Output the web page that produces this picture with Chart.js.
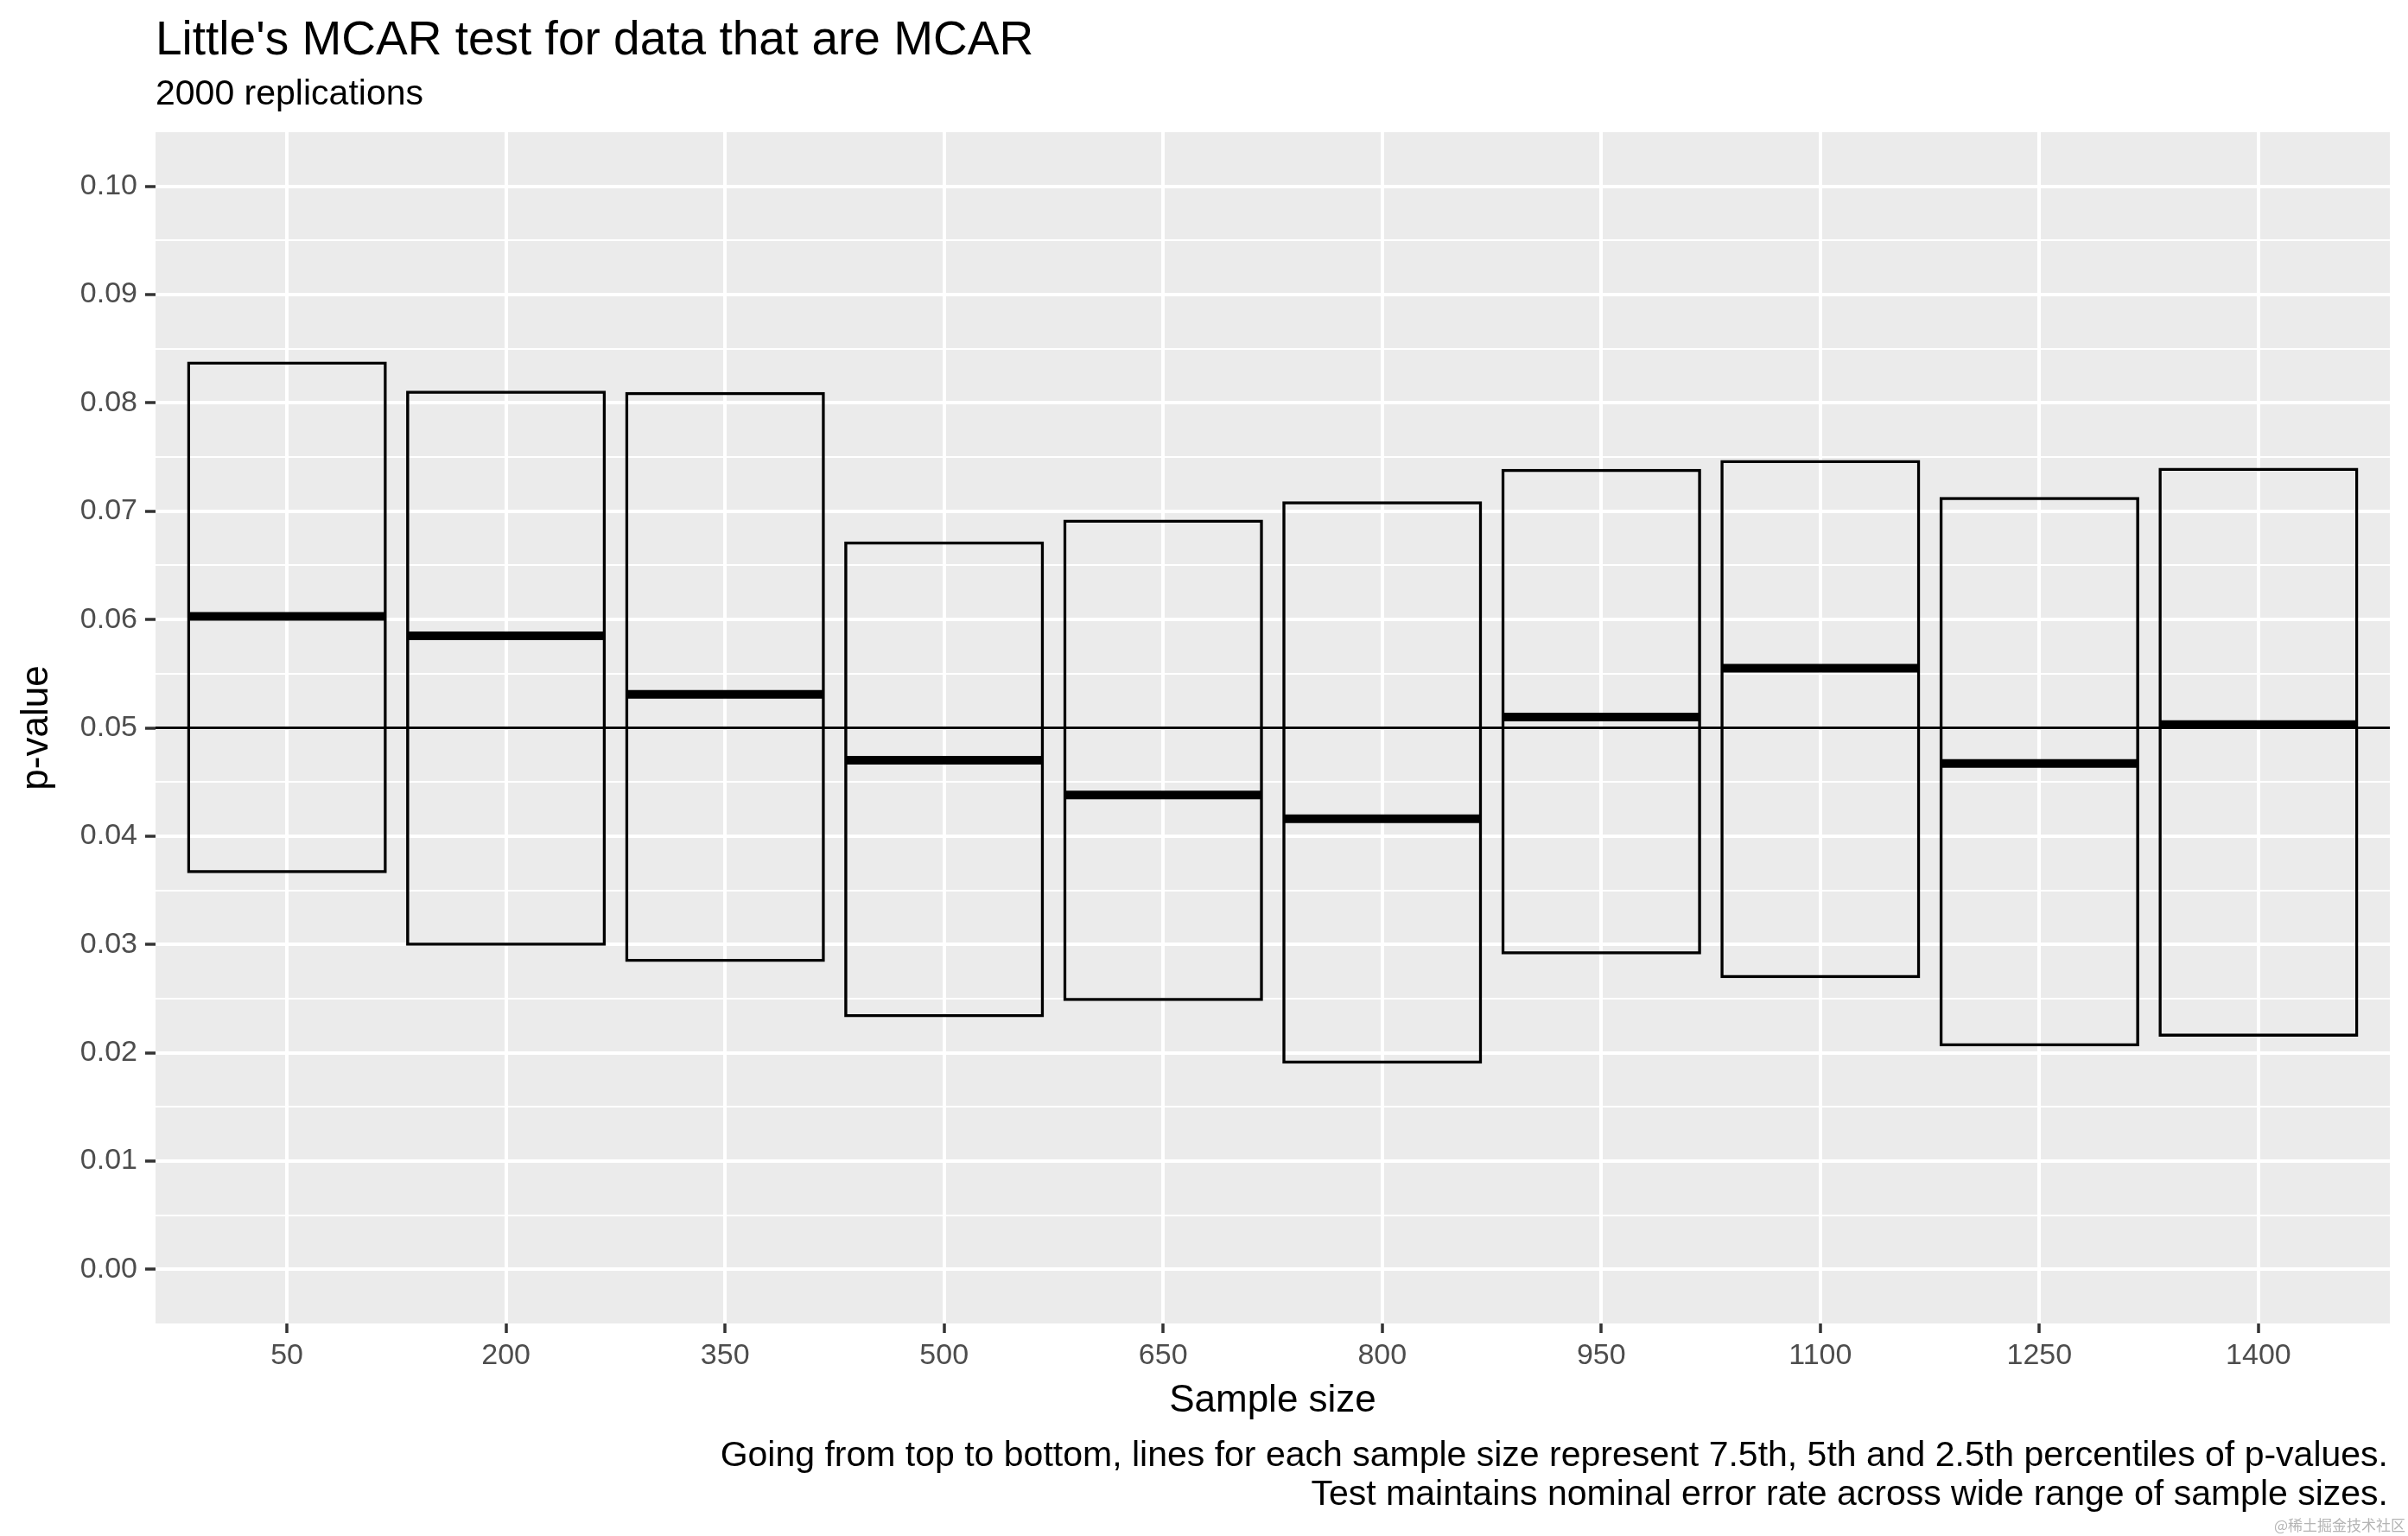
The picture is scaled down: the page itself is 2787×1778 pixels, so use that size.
<!DOCTYPE html>
<html>
<head>
<meta charset="utf-8">
<script src="https://cdn.jsdelivr.net/npm/chart.js@4.4.1/dist/chart.umd.min.js"></script>
<style>
  html, body { margin: 0; padding: 0; background: #fff; }
  canvas { display: block; }
</style>
</head>
<body>
<canvas id="chart" width="2787" height="1778" style="width:2787px;height:1778px"></canvas>
<script>
// sample sizes (discrete x axis)
const sampleSizes = ["50", "200", "350", "500", "650", "800", "950", "1100", "1250", "1400"];
// percentiles of p-values per sample size
const pct75 = [0.0837, 0.0810, 0.0809, 0.0671, 0.0691, 0.0708, 0.0738, 0.0746, 0.0712, 0.0739];
const pct50 = [0.0603, 0.0585, 0.0531, 0.0470, 0.0438, 0.0416, 0.0510, 0.0555, 0.0467, 0.0503];
const pct25 = [0.0367, 0.0300, 0.0285, 0.0234, 0.0249, 0.0191, 0.0292, 0.0270, 0.0207, 0.0216];

const yTicks = [0, 0.01, 0.02, 0.03, 0.04, 0.05, 0.06, 0.07, 0.08, 0.09, 0.10];
const yTickLabels = ["0.00", "0.01", "0.02", "0.03", "0.04", "0.05", "0.06", "0.07", "0.08", "0.09", "0.10"];
const refLine = 0.05;

const titleText = "Little's MCAR test for data that are MCAR";
const subtitleText = "2000 replications";
const captionLines = [
    "Going from top to bottom, lines for each sample size represent 7.5th, 5th and 2.5th percentiles of p-values.",
    "Test maintains nominal error rate across wide range of sample sizes."
];
const watermark = "@稀土掘金技术社区";

const X_MIN = 0.4, X_MAX = sampleSizes.length + 0.6;
const Y_MIN = -0.005, Y_MAX = 0.105;
const FONT = "'Liberation Sans', Arial, Helvetica, sans-serif";

Chart.defaults.font.family = FONT;

// major ticks plus the minor ones halfway between
function buildYTicks() {
    const list = yTicks.map(v => ({ value: v, major: true }));
    for (let i = 0; i < yTicks.length - 1; i++) {
        list.push({ value: (yTicks[i] + yTicks[i + 1]) / 2, major: false });
    }
    return list.sort((a, b) => a.value - b.value);
}

const decor = {
    id: "decor",
    beforeDraw(chart) {
        const { ctx, chartArea: a } = chart;
        ctx.save();
        ctx.fillStyle = "#ffffff";
        ctx.fillRect(0, 0, chart.width, chart.height);
        ctx.fillStyle = "#EBEBEB";
        ctx.fillRect(a.left, a.top, a.right - a.left, a.bottom - a.top);
        ctx.restore();
    },
    afterDraw(chart) {
        const { ctx, chartArea: a } = chart;
        ctx.save();
        ctx.fillStyle = "#000";
        ctx.textBaseline = "alphabetic";
        ctx.textAlign = "left";
        ctx.font = "55px " + FONT;
        ctx.fillText(titleText, a.left, 63);
        ctx.font = "41px " + FONT;
        ctx.fillText(subtitleText, a.left, 121);

        ctx.textAlign = "right";
        ctx.font = "41px " + FONT;
        ctx.fillText(captionLines[0], a.right - 2, 1697);
        ctx.fillText(captionLines[1], a.right - 2, 1742);

        ctx.fillStyle = "#b4b4b4";
        ctx.font = "17px 'Noto Sans CJK SC', sans-serif";
        ctx.fillText(watermark, chart.width - 3, 1772);
        ctx.restore();
    }
};

const boxData = sampleSizes.map((s, i) => ({ x: i + 1, y: [pct25[i], pct75[i]] }));
const midData = sampleSizes.map((s, i) => ({ x: i + 1, y: pct50[i] }));

new Chart(document.getElementById("chart"), {
    type: "bar",
    data: {
        datasets: [
            {
                type: "line",
                data: [{ x: X_MIN, y: refLine }, { x: X_MAX, y: refLine }],
                borderColor: "#000",
                borderWidth: 3,
                pointRadius: 0,
                fill: false
            },
            {
                type: "scatter",
                data: midData,
                pointStyle: "line",
                // half of the box width, taken from the x scale
                pointRadius: (c) => {
                    const xs = c.chart.scales.x;
                    return xs.getPixelForValue(1.45) - xs.getPixelForValue(1);
                },
                pointBorderColor: "#000",
                pointBackgroundColor: "#000",
                pointBorderWidth: 10
            },
            {
                type: "bar",
                data: boxData,
                backgroundColor: "rgba(0,0,0,0)",
                borderColor: "#000",
                // outline ~3.5px in total, roughly centred on the box edge
                borderWidth: 0.5,
                inflateAmount: 1.5,
                borderSkipped: false,
                barPercentage: 0.9,
                categoryPercentage: 1,
                grouped: false
            }
        ]
    },
    options: {
        responsive: false,
        devicePixelRatio: 1,
        animation: false,
        events: [],
        layout: { padding: { top: 153, right: 21, bottom: 0, left: 0 } },
        plugins: {
            legend: { display: false },
            tooltip: { enabled: false },
            title: { display: false }
        },
        scales: {
            x: {
                type: "linear",
                min: X_MIN,
                max: X_MAX,
                offset: false,
                afterBuildTicks: (s) => { s.ticks = sampleSizes.map((_, i) => ({ value: i + 1 })); },
                afterFit: (s) => { s.height = 246; },
                ticks: {
                    autoSkip: false,
                    maxRotation: 0,
                    padding: 6,
                    color: "#4D4D4D",
                    font: { size: 34 },
                    callback: (v) => sampleSizes[Math.round(v) - 1]
                },
                grid: {
                    offset: false,
                    color: "#ffffff",
                    lineWidth: 4,
                    tickColor: "#333333",
                    tickWidth: 3.5,
                    tickLength: 11
                },
                border: { display: false },
                title: {
                    display: true,
                    text: "Sample size",
                    color: "#000",
                    font: { size: 44 },
                    padding: { top: 0, bottom: 130 }
                }
            },
            y: {
                type: "linear",
                min: Y_MIN,
                max: Y_MAX,
                afterBuildTicks: (s) => { s.ticks = buildYTicks(); },
                afterFit: (s) => { s.width = 180; },
                ticks: {
                    autoSkip: false,
                    padding: 9,
                    color: "#4D4D4D",
                    font: { size: 34 },
                    callback: (v) => {
                        const k = yTicks.findIndex(t => Math.abs(t - v) < 1e-9);
                        return k >= 0 ? yTickLabels[k] : "";
                    }
                },
                grid: {
                    color: "#ffffff",
                    lineWidth: (c) => (c.tick && c.tick.major ? 4 : 2),
                    tickColor: (c) => (c.tick && c.tick.major ? "#333333" : "rgba(0,0,0,0)"),
                    tickWidth: 3.5,
                    tickLength: 12
                },
                border: { display: false },
                title: {
                    display: true,
                    text: "p-value",
                    color: "#000",
                    font: { size: 44 },
                    padding: { top: 16, bottom: 0 }
                }
            }
        }
    },
    plugins: [decor]
});
</script>
</body>
</html>
